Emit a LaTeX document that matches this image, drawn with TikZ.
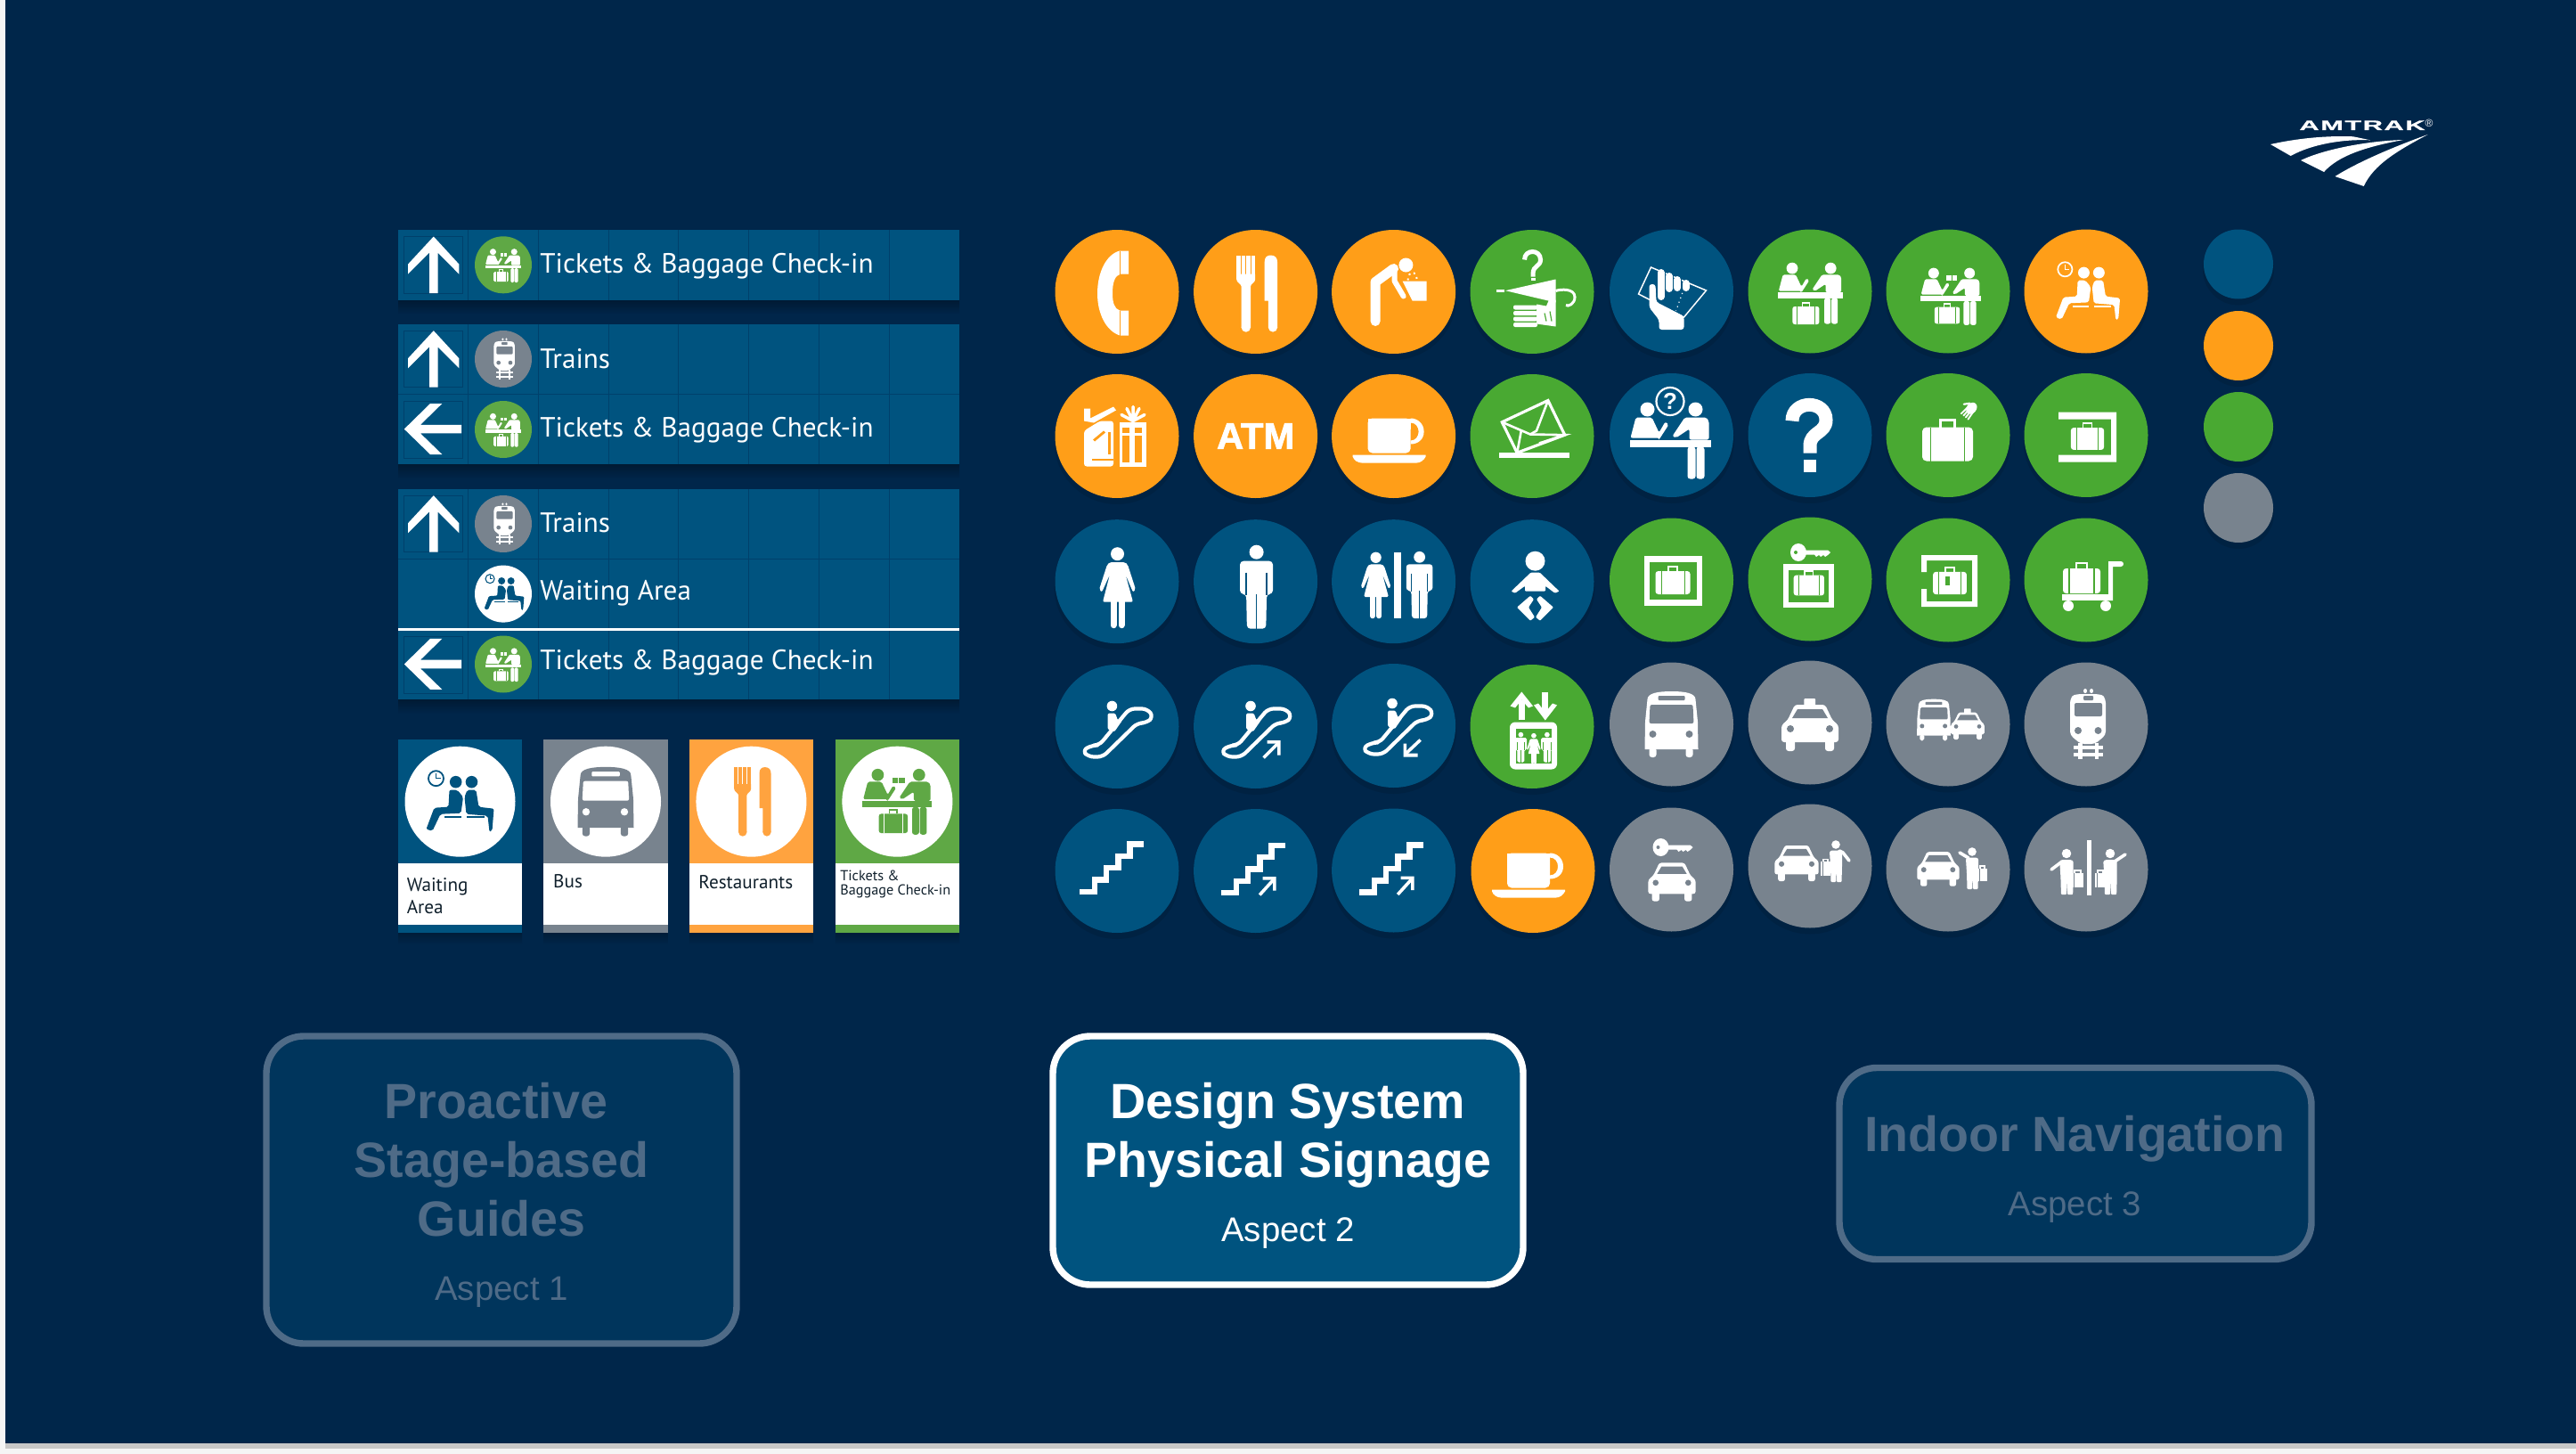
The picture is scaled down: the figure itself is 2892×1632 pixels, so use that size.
\documentclass[tikz,border=0pt]{standalone}
\usepackage{fontspec}
\setmainfont{Liberation Sans}
\newfontfamily\signfont{PT Sans}
\newfontfamily\amfont[FakeStretch=2.0,LetterSpace=10,FakeBold=1]{Liberation Sans}
\newfontfamily\atmfont[FakeBold=2]{Liberation Sans}
\definecolor{bgc}{HTML}{00264A}
\definecolor{cblue}{HTML}{00537F}
\definecolor{corange}{HTML}{FF9E18}
\definecolor{cgreen}{HTML}{49A932}
\definecolor{cgray}{HTML}{78838E}
\definecolor{sgreen}{HTML}{5FA845}
\definecolor{sorange}{HTML}{FFA33F}
\definecolor{gridc}{HTML}{00406B}
\definecolor{dimbox}{HTML}{00355C}
\definecolor{dimline}{HTML}{4F6B87}
\definecolor{cardtext}{HTML}{10202C}
\colorlet{icfg}{white}\colorlet{icbg}{black}
\def\icS{1}
\tikzset{
 wf/.style={fill=icfg,draw=none},
 bf/.style={fill=icbg,draw=none},
 ws/.style={draw=icfg,fill=none,line width=\icS*#1*0.5pt},
 bs/.style={draw=icbg,fill=none,line width=\icS*#1*0.5pt},
 rc/.style={rounded corners=\icS*#1*0.5pt},
 lbl/.style={anchor=base west,inner sep=0pt,text=white},
 mid/.style={anchor=base,inner sep=0pt},
}
\newcommand{\subic}[4]{\begin{scope}[shift={(#1,#2)},scale=#3]\pgfmathsetmacro\icS{\icS*#3}#4\end{scope}}
\newcommand{\icn}[6]{\begin{scope}[shift={(#2,#3)},scale=#4]\def\icS{#4}\colorlet{icfg}{#5}\colorlet{icbg}{#6}\csname ico#1\endcsname\end{scope}}
\newcommand{\dsk}[4]{\fill[black,opacity=.1] (#1,#2+6) circle[radius=#3+1];\fill[#4] (#1,#2) circle[radius=#3];}
\newcommand{\sgn}[4]{\dsk{#1}{#2}{69.5}{#3}\icn{#4}{#1}{#2}{1}{white}{#3}}
% --- icons
\newcommand{\icoPhone}{\fill[wf] (13,-46)--(13,-20)--(4,-20) .. controls (-2,-18) and (-5,-12) .. (-5,2) .. controls (-5,12) and (-3,19) .. (3,21)--(13,21)--(13,49)--(3,49) .. controls (-12,44) and (-22,25) .. (-22,2) .. controls (-22,-22) and (-12,-42) .. (3,-46)--cycle;
 \draw[bs=1] (3,-46)--(3,-20) (3,21)--(3,49);}
\newcommand{\icoFork}{\foreach \q in {-21.4,-15.9,-10.4,-4.9}{\fill[wf] (\q,-41) rectangle (\q+4.5,-18);}
 \fill[wf] (-21.4,-20)--(-21.4,-14) .. controls (-21.4,-10) and (-16,-9) .. (-16,-6)--(-16,40)--(-5.6,40)--(-5.6,-6) .. controls (-5.6,-9) and (-0.4,-10) .. (-0.4,-14)--(-0.4,-20)--cycle;
 \fill[wf] (-10.8,40) circle[radius=5.2];
 \fill[wf] (10,-33) .. controls (10,-39) and (13,-41) .. (17,-41) .. controls (22,-41) and (24.5,-38) .. (24.5,-33)--(24.5,40)--(14.3,40)--(14.3,10)--(10,10)--cycle;
 \fill[wf] (19.4,40) circle[radius=5.1];}
\newcommand{\icoFountain}{\fill[wf] (13.8,-30) circle[radius=8];
 \draw[ws=11,line cap=round,line join=round] (-20.5,33)--(-20.5,-11)--(0,-26);
 \draw[ws=6,line cap=round,line join=round] (1,-22)--(1,-12)--(11,5);
 \fill[wf] (10,-12)--(37,-12)--(37,10)--(21,10)--cycle;
 \draw[ws=2,dotted] (16,-13) .. controls (16,-24) and (26,-24) .. (26,-14);}
\newcommand{\icoQmark}{\draw[ws=5] (-8.5,-36) .. controls (-8.5,-48) and (9.5,-48) .. (9.5,-36) .. controls (9.5,-28) and (1,-30) .. (1,-20)--(1,-17);\fill[wf] (-1.5,-16) rectangle (3.5,-13);}
\newcommand{\icoUmbrella}{\icoQmark
 \draw[ws=3] (-40,-1.3)--(-31,-1.3);
 \fill[wf] (-30,-1.3)--(26.5,-14)--(26.5,12)--cycle;
 \draw[ws=3] (26.5,-1) .. controls (32,-3) and (48,-4) .. (48,6) .. controls (48,14) and (40,17) .. (38,15);
 \fill[wf] (26.5,9) -- (26.5,39)--(5,36)--(5,14)--(16,16)--(19,9)--cycle;
 \foreach \q in {15,21.5,28,34.5}{\fill[wf,rc=2] (-21,\q) rectangle (6,\q+5);}
 \draw[bs=1.2] (14,24)--(16,33)(20,22)--(22,33);}
\newcommand{\icoTicketHand}{\draw[ws=1.5,line join=miter] (-23,-27)--(39,-1)--(14,29)--(-37,3)--cycle;
 \draw[ws=1.2,dotted] (14,-3)--(5,22);
 \draw[ws=8,line cap=round] (-12,-21)--(-12,6) (-2.5,-17)--(-2.5,-3) (6.6,-13)--(6.6,-4) (16,-9)--(16,-4);
 \draw[bs=1] (-7,-24)--(-7,0) (2,-20)--(2,0) (11.3,-16)--(11.3,0);
 \fill[wf,rc=3] (-25,-8)--(-18,-8)--(-17,12)--(14,28)--(14,43)--(-14,43)--(-14,32)--(-25,18)--cycle;}
\newcommand{\icoBagA}{\fill[wf,rc=5] (-30,-20) rectangle (30,20);
 \draw[bs=1.6] (-20,-20)--(-20,20) (20,-20)--(20,20);
 \draw[ws=3] (-8,-20)--(-8,-28)--(8,-28)--(8,-20);}
\newcommand{\icoCpair}{\fill[wf] (-27,-34) circle[radius=8];\fill[wf] (27,-34) circle[radius=8];
 \fill[wf,rc=2] (-46,-2)--(-40,-25)--(-22,-25)--(-14,-8)--(-7,-20)--(-3,-17)--(-14,0)--(-14,-2)--cycle;
 \fill[wf,rc=2] (15,-25)--(39,-25)--(42,-21)--(42,0)--(20,0)--(20,-12)--(5,-2)--(1,-4)--cycle;
 \fill[wf] (-47,0) rectangle (44,8);
 \fill[wf,rc=3] (18,8) rectangle (27,44);\fill[wf,rc=3] (28,8) rectangle (37,44);}
\newcommand{\icoTixA}{\subic{1.6}{1.3}{.8}{\icoCpair}\subic{-4.6}{27}{.5}{\icoBagA}}
\newcommand{\icoCheck}{\subic{4}{5}{.747}{\icoCpair}\subic{-1}{27}{.47}{\icoBagA}
 \fill[wf] (-2,-18) rectangle (10,-12);\draw[bs=1] (4,-18)--(4,-12);}
\newcommand{\icoWait}{\draw[ws=1.8] (-27,-26) circle[radius=8.5];\draw[ws=1.4] (-27,-32)--(-27,-26)--(-22,-26);
 \fill[wf] (-4.8,-22) circle[radius=6.8];\fill[wf] (13,-22) circle[radius=6.8];
 \fill[wf,rc=2] (-12,-13)--(-3,-13)--(3.5,-5)--(1,13)--(-22,14)--(-31,33)--(-38,31)--(-29,7)--(-13,6)--cycle;
 \fill[wf,rc=2] (8,-13)--(18,-13)--(21,6)--(38,8)--(36,33)--(33,34)--(31,16)--(7,14)--(5,-5)--cycle;
 \fill[wf] (-18,16.5) rectangle (1,18.5);\fill[wf] (7,16.5) rectangle (27,18.5);}
\newcommand{\icoWaitB}{\subic{2}{0}{.95}{\icoWait}}
\newcommand{\icoGift}{\fill[wf] (-37,-31)--(-30,-31)--(-30,-20)--(-4,-33)--(-1,-29)--(-26,-15)--(-37,-17)--cycle;
 \fill[wf,rc=3] (-37,-6)--(-19,-17)--(-4,-17)--(-4,34)--(-37,34)--cycle;
 \fill[bf] (-10,-5) rectangle (-7,20);\fill[bf] (-28,25) rectangle (-4,27);\fill[bf] (-27,4)--(-15,-6)--(-13,-4)--(-25,6)--cycle;
 \fill[wf] (2.5,-16) rectangle (33,34);
 \fill[bf] (6,-10) rectangle (14,-4);\fill[bf] (20.4,-10) rectangle (28,-4);\fill[bf] (6,-1) rectangle (14,29);\fill[bf] (20.4,-1) rectangle (28,29);
 \draw[ws=3.5,line cap=round] (18,-17)--(5,-24) (18,-17)--(11,-31) (18,-17)--(18,-33) (18,-17)--(25,-31) (18,-17)--(31,-24);}
\newcommand{\icoATM}{\node[inner sep=0pt,text=icfg,transform shape,font=\atmfont\bfseries\fontsize{20.8}{22}\selectfont] (atm) at (0,0) {ATM};}
\newcommand{\icoCup}{\fill[wf,rc=5] (-29,-20)--(19,-20)--(19,19)--(-29,19)--cycle;\fill[wf] (-29,-20) rectangle (19,-8);
 \fill[wf] (19,-20) .. controls (27,-20) and (34,-14) .. (34,-5) .. controls (34,4) and (27,9) .. (19,9)--(19,5) .. controls (25,5) and (28,0) .. (28,-5) .. controls (28,-10) and (25,-15) .. (19,-15)--cycle;
 \fill[wf] (-46,21)--(36,21)--(36,23) .. controls (34,27) and (30,30) .. (26,30)--(-36,30) .. controls (-40,30) and (-45,27) .. (-46,23)--cycle;}
\newcommand{\icoEnvelope}{\draw[ws=3.2,line join=miter] (-33.7,-15.7)--(17.9,-40)--(36.7,-1.3)--(-16.8,18.7)--cycle;
 \draw[ws=2.6] (-33.7,-15.7)--(-2,-2)--(5,-6)--(17.9,-40);\draw[ws=2.6] (-2,-2)--(36.7,-1.3)--(8,8);\draw[ws=2.6] (-16.8,18.7)--(-12,-7);
 \fill[wf] (-37,18) rectangle (42,24.5);}
\newcommand{\icoInfo}{\draw[ws=2.2] (-1.5,-38) circle[radius=15.5];
 \node[inner sep=0pt,text=icfg,transform shape,font=\bfseries\fontsize{13}{14}\selectfont] (qi) at (-1.5,-38) {?};
 \subic{0}{5}{1}{\icoCpair}}
\newcommand{\icoBigQ}{\draw[ws=15] (-20,-16) .. controls (-20,-40) and (18,-40) .. (18,-17) .. controls (18,-2) and (0,-4) .. (0,12)--(0,20);
 \fill[wf] (-7,27) rectangle (7,41);}
\newcommand{\icoLuggage}{\subic{-.5}{10}{.95}{\icoBagA}
 \begin{scope}[shift={(27,-31)},rotate=-40]\fill[wf] (0,1) ellipse[x radius=5.5,y radius=7];
 \foreach \q in {-4,-1.3,1.3,4}{\draw[ws=1.9,line cap=round] (\q,3)--(\q*1.25,13);}\draw[ws=2.2,line cap=round] (-5,-2)--(-9.5,3);\end{scope}}
\newcommand{\icoBracket}{\fill[wf] (-31,-26)--(34,-26)--(34,30)--(-31,30)--(-31,22)--(28,22)--(28,-18)--(-31,-18)--cycle;
 \subic{1.5}{4}{.62}{\icoBagA}}
\newcommand{\icoWoman}{\fill[wf] (.5,-31) circle[radius=7.5];
 \fill[wf,rc=2] (-8,-21.7)--(9,-21.7)--(12,-19)--(21,9)--(18,12)--(9.5,-8)--(18,23)--(-16,23)--(-8,-8)--(-17,12)--(-20,9)--(-11,-19)--cycle;
 \draw[ws=7,line cap=round] (-4,23)--(-4,49) (5,23)--(5,49);}
\newcommand{\icoMan}{\fill[wf] (1,-33) circle[radius=8];
 \fill[wf,rc=4] (-17.5,14)--(-17.5,-23)--(19.4,-23)--(19.4,14)--(12.5,14)--(11.7,53)--(-9.7,53)--(-10.5,14)--cycle;
 \draw[bs=1.5] (-10.5,-10)--(-10.5,15) (12.5,-10)--(12.5,15) (1,14)--(1,54);}
\newcommand{\icoWC}{\subic{-20.4}{-1.5}{.82}{\icoWoman}\fill[wf] (0,-33) rectangle (8.7,41);\subic{28.2}{-1}{.8}{\icoMan}}
\newcommand{\icoBaby}{\fill[wf] (3.5,-23) circle[radius=11];
 \fill[wf,rc=1] (-1.5,-10)--(8.7,-10)--(30.6,11)--(25.5,13)--(15,5)--(15,11)--(-8,11)--(-8,5)--(-19,13)--(-23.5,11)--cycle;
 \fill[wf,rc=1] (-2,16)--(-17,29)--(-2,44)--(3,40)--(-4,29)--(2,20)--cycle;
 \fill[wf,rc=1] (9,16)--(24,29)--(9,44)--(4,40)--(11,29)--(5,20)--cycle;}
\newcommand{\icoSqBag}{\fill[wf] (-31,-27) rectangle (34,29);\fill[bf] (-25,-20) rectangle (28,22);\subic{1.5}{3}{.65}{\icoBagA}}
\newcommand{\icoKeyA}{\fill[wf] (0,0) ellipse[x radius=9,y radius=10];\fill[bf] (-3,0) circle[radius=2];
 \fill[wf] (6,-2.5)--(33,-2.5)--(36,0)--(33,3)--(30,5)--(28,3)--(25,5)--(23,3)--(20,5)--(18,2.5)--(6,2.5)--cycle;}
\newcommand{\icoKeyBox}{\subic{-13}{-30}{1}{\icoKeyA}\fill[wf] (-30,-17) rectangle (27,32);\fill[bf] (-24,-10) rectangle (21,26);\subic{-1.2}{7}{.57}{\icoBagA}}
\newcommand{\icoTagBag}{\fill[wf] (-30,-28)--(33,-28)--(33,30)--(-30,30)--(-30,10)--(-24,10)--(-24,24)--(27,24)--(27,-22)--(-24,-22)--(-24,-9)--(-30,-9)--cycle;
 \subic{2}{3.5}{.63}{\icoBagA}\fill[bf] (-3,-4) rectangle (2,6);}
\newcommand{\icoCart}{\subic{-5}{1}{.7}{\icoBagA}
 \fill[wf] (-27,16) rectangle (30,23);\fill[wf] (25,23)--(25,-21)--(39,-21)--(39,-15)--(30,-15)--(30,23)--cycle;\fill[wf] (39,-18) circle[radius=3];
 \fill[wf] (-20,29) circle[radius=6];\fill[wf] (22,29) circle[radius=6];}
\newcommand{\icoEsc}{\draw[ws=4.2,rc=6,line join=round] (-28,21)--(-20,21)--(14,-20)--(34,-20)--(41,-11)--(33,-4)--(23,-4)--(-16,34)--(-32,34)--(-39,27)--cycle;
 \fill[wf] (-5.6,-23) circle[radius=5.8];
 \fill[wf,rc=1.5] (-10.5,-15)--(-2,-15)--(1,-7)--(6,-7)--(-3,6)--(-10.5,3)--cycle;}
\newcommand{\icoEscUp}{\icoEsc\draw[ws=3.6] (9,35)--(26,18);\fill[wf] (13,15.5)--(28,15.5)--(28,32)--(24.5,32)--(24.5,19)--(13,19)--cycle;}
\newcommand{\icoEscDn}{\subic{4}{-2}{1}{\icoEsc}\draw[ws=3.6] (30,16)--(13,32);\fill[wf] (11,20)--(14.5,20)--(14.5,31)--(27,31)--(27,35)--(11,35)--cycle;}
\newcommand{\icoElev}{\draw[ws=7] (-11.7,-30)--(-11.7,-8);\fill[wf] (-11.7,-39)--(1,-23)--(-4,-21)--(-11.7,-30)--(-19,-21)--(-24.5,-23)--cycle;
 \draw[ws=7] (14.8,-38.7)--(14.8,-14);\fill[wf] (14.8,-7)--(28,-24)--(23,-26)--(14.8,-16)--(7,-26)--(2,-24)--cycle;
 \fill[wf,rc=6] (-25,-5) rectangle (28,48);\fill[bf] (-18,2) rectangle (21.5,41);
 \subic{1.7}{22}{.38}{\icoWoman}\subic{-13}{21}{.36}{\icoMan}\subic{16.5}{21}{.36}{\icoMan}}
\newcommand{\icoBus}{\fill[wf] (-27,-28) .. controls (-27,-35) and (-15,-37) .. (0,-37) .. controls (15,-37) and (27,-35) .. (27,-28)--(29.5,-3)--(30,28)--(-30,28)--(-29.5,-3)--cycle;
 \fill[wf,rc=3] (-25,26) rectangle (-17,37);\fill[wf,rc=3] (16,26) rectangle (24,37);
 \fill[bf,rc=2] (-24,-22)--(24,-22)--(25,-1)--(-25,-1)--cycle;\fill[bf,rc=1] (-15,-32) rectangle (15,-27);
 \fill[bf] (-21,11) circle[radius=4];\fill[bf] (20,11) circle[radius=4];}
\newcommand{\icoCar}{\fill[wf,rc=3] (-17,-20)--(17,-20)--(25,-3)--(32,3)--(32,22)--(-32,22)--(-32,3)--(-25,-3)--cycle;
 \fill[wf,rc=3] (-27,18) rectangle (-17,32);\fill[wf,rc=3] (17,18) rectangle (27,32);
 \fill[bf] (-14,-15)--(14,-15)--(20,-5)--(-20,-5)--cycle;
 \fill[bf] (-22,7) circle[radius=4];\fill[bf] (22,7) circle[radius=4];}
\newcommand{\icoTaxi}{\fill[wf,rc=1] (-6.6,-27) rectangle (6,-18);\icoCar}
\newcommand{\icoBusTaxi}{\subic{-16}{-5}{.63}{\icoBus}\subic{22}{-1.7}{.59}{\icoTaxi}}
\newcommand{\icoTrain}{\fill[wf] (-1,-37.5) ellipse[x radius=2,y radius=2.6];\fill[wf] (6,-37.5) ellipse[x radius=2,y radius=2.6];
 \fill[wf,rc=4] (-18,-28) .. controls (-14,-34) and (-6,-34) .. (2,-34) .. controls (10,-34) and (18,-34) .. (22,-28)--(22,12)--(10,22)--(-6,22)--(-18,12)--cycle;
 \fill[bf,rc=1] (-3,-32) rectangle (8,-27);\fill[bf,rc=2] (-13,-24) rectangle (18,-9);
 \fill[bf] (-9,7) circle[radius=4];\fill[bf] (13.5,7) circle[radius=4];
 \fill[wf] (-14,24) rectangle (19,27.5);\fill[wf] (-14,32) rectangle (19,35.5);
 \fill[wf] (-9,21) rectangle (-4.5,38.5);\fill[wf] (9.5,21) rectangle (14,38.5);}
\newcommand{\icoStairs}{\draw[ws=6.5,line join=miter] (-42,23.3)--(-25,23.3)--(-25,10)--(-12,10)--(-12,-3.3)--(1.5,-3.3)--(1.5,-16.7)--(14.5,-16.7)--(14.5,-30)--(30,-30);}
\newcommand{\icoStairUp}{\subic{3.5}{1.3}{1}{\icoStairs}\draw[ws=3.6] (4.6,27)--(20,10);\fill[wf] (8,6.5)--(23,6.5)--(23,22)--(19.5,22)--(19.5,10)--(8,10)--cycle;}
\newcommand{\icoKeyCar}{\subic{-12}{-25}{1}{\icoKeyA}\subic{.5}{9}{.83}{\icoCar}}
\newcommand{\icoTrav}{\fill[wf] (0,0) circle[radius=4.8];
 \fill[wf,rc=1] (-7,8)--(-5,6.5)--(5,6.5)--(7,8)--(7,24)--(6.5,42)--(1,42)--(.5,26)--(0,42)--(-5.5,42)--(-6,24)--cycle;}
\newcommand{\icoTravBag}[4]{\fill[wf] (#1,#2) rectangle (#3,#4);\draw[ws=1.5] (#1+3,#2)--(#1+3,#2-3)--(#3-3,#2-3)--(#3-3,#2);\draw[bs=1] (#1+2.5,#2)--(#1+2.5,#4);}
\newcommand{\icoCarManA}{\subic{-15}{-7.6}{.77}{\icoCar}\subic{29}{-24}{1}{\icoTrav}\draw[ws=3.6,line cap=round,line join=round] (33,-17)--(37,-15)--(44,-6);\icoTravBag{12}{-4.6}{23}{11}}
\newcommand{\icoCarManB}{\subic{-11}{-5}{.74}{\icoCar}\subic{27}{-20}{1}{\icoTrav}\draw[ws=3.6,line cap=round,line join=round] (23,-13)--(13,-19);\icoTravBag{33}{-1}{44}{13}}
\newcommand{\icoTwoMen}{\fill[wf] (1,-33) rectangle (6,29);
 \subic{-22}{-18}{1.1}{\icoTrav}\draw[ws=3.6,line cap=round,line join=round] (-27,-9)--(-39,0);\icoTravBag{-16}{4}{-3}{20}
 \subic{27}{-18}{1.1}{\icoTrav}\draw[ws=3.6,line cap=round,line join=round] (32,-9)--(44,-17);\icoTravBag{10}{4}{22}{20}}
\begin{document}
\begin{tikzpicture}[x=.5pt,y=-.5pt]
\useasboundingbox (0,0) rectangle (2892,1632);
\fill[bgc] (0,0) rectangle (2892,1632);
\fill[white!96!black] (0,0) rectangle (6,1632);
\fill[white!96!black] (0,1626) rectangle (2892,1632);
\fill[white!78!black] (6,1620) rectangle (2892,1626);
% logo
\node[lbl,font=\amfont\bfseries\fontsize{7.7}{9}\selectfont] (logoname) at (2581,146) {AMTRAK};
\node[inner sep=0pt,text=white,font=\fontsize{6}{7}\selectfont] (logor) at (2727,138) {®};
\fill[white] (2549,162) .. controls (2580,155) and (2615,152) .. (2642,153.3)--(2661,157.3) .. controls (2630,156) and (2595,162) .. (2571.7,175)--cycle;
\fill[white] (2583,180) .. controls (2610,167) and (2660,158) .. (2698,157) .. controls (2655,165) and (2625,175) .. (2609,193)--cycle;
\fill[white] (2621.5,198) .. controls (2650,180) and (2695,162) .. (2725.6,151) .. controls (2690,170) and (2665,185) .. (2653.7,209)--cycle;
% sign shadows
\foreach \b in {336.5,521,784.6}{\shade[top color=black!60!bgc,bottom color=bgc,opacity=.5] (447,\b) rectangle (1077,\b+16);}
% signs
\newcommand{\signrow}[2]{\fill[cblue] (447,#1) rectangle (1077,#2);
 \draw[gridc,line width=.6pt] (525.4,#1)--(525.4,#2) (604.3,#1)--(604.3,#2) (683.7,#1)--(683.7,#2) (761.7,#1)--(761.7,#2) (840.2,#1)--(840.2,#2) (919.5,#1)--(919.5,#2) (998.5,#1)--(998.5,#2);}
\newcommand{\arrowup}[1]{\begin{scope}[yshift=#1*-.5pt]\draw[gridc,line width=.4pt] (453.8,265.5) rectangle (519,329);
 \fill[white] (486.8,265.5)--(515.4,296.6)--(515.4,307.7)--(491.5,283.6)--(491.5,329)--(482,329)--(482,283.6)--(458,307.7)--(458,296.6)--cycle;\end{scope}}
\newcommand{\arrowleft}[1]{\begin{scope}[yshift=#1*-.5pt]\draw[gridc,line width=.4pt] (453.8,450) rectangle (519,514);
 \fill[white] (453.8,481.6)--(483,453)--(496.3,453)--(472,476.8)--(518,476.8)--(518,486.4)--(472,486.4)--(496.3,510)--(483,510)--cycle;\end{scope}}
\signrow{258}{336.5}
\signrow{364}{442.4}\signrow{442.4}{521}
\signrow{549}{627.7}\signrow{627.7}{706}\signrow{706}{784.6}
\draw[gridc,line width=.6pt] (447,442.4)--(1077,442.4) (447,627.7)--(1077,627.7);
\draw[white,line width=1.5pt] (447,706)--(1077,706);
\arrowup{0}\arrowup{105.7}\arrowup{290.7}\arrowleft{0}\arrowleft{263.9}
\newcommand{\signcirc}[3]{\fill[#3] (565,#1) circle[radius=32];\icn{#2}{565}{#1}{.59}{white}{#3}}
\fill[sgreen] (565,297.3) circle[radius=32];\icn{Check}{563}{294.7}{.59}{white}{sgreen}
\signcirc{403}{Train}{cgray}
\fill[sgreen] (565,482) circle[radius=32];\icn{Check}{563}{479.4}{.59}{white}{sgreen}
\signcirc{588}{Train}{cgray}
\fill[white] (565,666.6) circle[radius=32];\icn{Wait}{566}{665}{.59}{cblue}{white}
\fill[sgreen] (565,745.5) circle[radius=32];\icn{Check}{563}{742.9}{.59}{white}{sgreen}
\tikzset{signtxt/.style={lbl,font=\signfont\fontsize{15.6}{18}\selectfont}}
\node[signtxt] (t1) at (606,306) {Tickets \& Baggage Check-in};
\node[signtxt] (t2) at (606,413) {Trains};
\node[signtxt] (t3) at (606,490) {Tickets \& Baggage Check-in};
\node[signtxt] (t4) at (606,597.4) {Trains};
\node[signtxt] (t5) at (606,673) {Waiting Area};
\node[signtxt] (t6) at (606,751.6) {Tickets \& Baggage Check-in};
% cards
\newcommand{\cardbox}[3]{\shade[top color=black!45!bgc,bottom color=bgc,opacity=.5] (#1,1047) rectangle (#2,1060);\fill[#3] (#1,830) rectangle (#2,1047);\fill[white] (#1,969.3) rectangle (#2,1038);\fill[white] (#1/2+#2/2,899.7) circle[radius=62];}
\cardbox{447}{586}{cblue}\icn{Wait}{516.5}{899.7}{1}{cblue}{white}
\cardbox{610.4}{749.6}{cgray}\icn{Bus}{680}{899.7}{1.05}{cgray}{white}
\cardbox{773.9}{913}{sorange}\icn{Fork}{843.5}{898}{.9}{sorange}{white}
\cardbox{937.8}{1077}{sgreen}\icn{Check}{1004}{893.2}{1.15}{sgreen}{white}
\tikzset{cardtxt/.style={anchor=base west,inner sep=0pt,text=cardtext,font=\signfont\fontsize{10.6}{12.5}\selectfont}}
\node[cardtxt,align=left] (c1) at (456.4,1025) {Waiting\\Area};
\node[cardtxt] (c2) at (620.8,996.7) {Bus};
\node[cardtxt] (c3) at (784,997) {Restaurants};
\node[cardtxt,align=left,font=\signfont\fontsize{8.1}{8}\selectfont] (c4) at (943,1004.3) {Tickets \&\\Baggage Check-in};
% circles
\sgn{1254}{327.5}{corange}{Phone}
\sgn{1409.6}{327.5}{corange}{Fork}
\sgn{1564.6}{327.5}{corange}{Fountain}
\sgn{1720}{327.5}{cgreen}{Umbrella}
\sgn{1876.5}{327}{cblue}{TicketHand}
\sgn{2032}{327}{cgreen}{TixA}
\sgn{2187}{327}{cgreen}{Check}
\sgn{2342}{327}{corange}{WaitB}
\sgn{1254}{489.5}{corange}{Gift}
\sgn{1409.6}{489.5}{corange}{ATM}
\sgn{1564.6}{489.5}{corange}{Cup}
\sgn{1720}{489.5}{cgreen}{Envelope}
\sgn{1876.5}{488.5}{cblue}{Info}
\sgn{2032}{488.5}{cblue}{BigQ}
\sgn{2187}{488.5}{cgreen}{Luggage}
\sgn{2342}{488.5}{cgreen}{Bracket}
\sgn{1254}{652.7}{cblue}{Woman}
\sgn{1409.6}{652.7}{cblue}{Man}
\sgn{1564.6}{652.7}{cblue}{WC}
\sgn{1720}{652.7}{cblue}{Baby}
\sgn{1876.5}{651}{cgreen}{SqBag}
\sgn{2032}{650}{cgreen}{KeyBox}
\sgn{2187}{651}{cgreen}{TagBag}
\sgn{2342}{651}{cgreen}{Cart}
\sgn{1254}{815.5}{cblue}{Esc}
\sgn{1409.6}{815.5}{cblue}{EscUp}
\sgn{1564.6}{814.5}{cblue}{EscDn}
\sgn{1720}{815.5}{cgreen}{Elev}
\sgn{1876.5}{813}{cgray}{Bus}
\sgn{2032}{811}{cgray}{Taxi}
\sgn{2187}{813}{cgray}{BusTaxi}
\sgn{2342}{813}{cgray}{Train}
\sgn{1254}{977.5}{cblue}{Stairs}
\sgn{1409.6}{977.5}{cblue}{StairUp}
\sgn{1564.6}{977}{cblue}{StairUp}
\sgn{1721}{977.5}{corange}{Cup}
\sgn{1876.5}{976}{cgray}{KeyCar}
\sgn{2032}{972}{cgray}{CarManA}
\sgn{2187}{976}{cgray}{CarManB}
\sgn{2342}{976}{cgray}{TwoMen}
% legend
\dsk{2513}{296.5}{39}{cblue}
\dsk{2513}{388}{39}{corange}
\dsk{2513}{479}{39}{cgreen}
\dsk{2513}{570}{39}{cgray}
% aspect boxes
\tikzset{dimb/.style={fill=dimbox,draw=dimline,line width=3.7pt,rounded corners=21pt},
 actb/.style={fill=cblue,draw=white,line width=3.7pt,rounded corners=21pt},
 ttl/.style={mid,font=\bfseries\fontsize{27.8}{33}\selectfont},
 asp/.style={mid,font=\fontsize{19.2}{22}\selectfont}}
\draw[dimb] (299,1163) rectangle (827,1508);
\draw[actb] (1182,1163) rectangle (1710,1442);
\draw[dimb] (2065,1198.5) rectangle (2595,1413.5);
\node[ttl,text=dimline] (p1) at (557,1255) {Proactive};
\node[ttl,text=dimline] (p2) at (563,1321) {Stage-based};
\node[ttl,text=dimline] (p3) at (563,1387) {Guides};
\node[asp,text=dimline] (p4) at (563,1459) {Aspect 1};
\node[ttl,text=white] (d1) at (1446,1255) {Design System};
\node[ttl,text=white] (d2) at (1446,1321) {Physical Signage};
\node[asp,text=white] (d3) at (1446,1393) {Aspect 2};
\node[ttl,text=dimline] (i1) at (2329.5,1292) {Indoor Navigation};
\node[asp,text=dimline] (i2) at (2329.5,1364) {Aspect 3};
\end{tikzpicture}
\end{document}
